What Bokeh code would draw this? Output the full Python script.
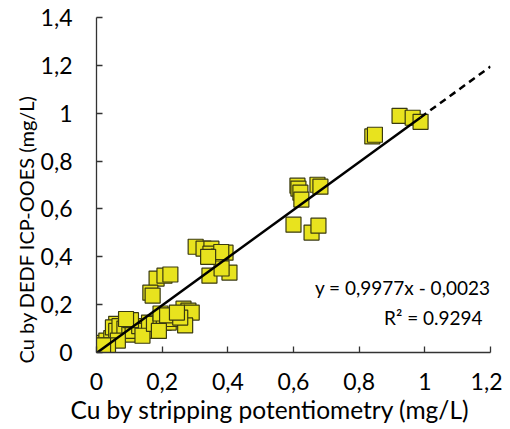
from bokeh.plotting import figure
from bokeh.models import Range1d, FixedTicker, CustomJSTickFormatter, Label, Title
from bokeh.embed import file_html
from bokeh.resources import INLINE

# Data
x_vals = [0.923, 0.963, 0.987, 0.840, 0.848,
          0.612, 0.615, 0.621, 0.624, 0.673, 0.682, 0.600, 0.655, 0.676,
          0.302, 0.326, 0.350, 0.347, 0.393, 0.372, 0.380, 0.344, 0.405, 0.381, 0.340,
          0.183, 0.207, 0.225, 0.164, 0.171,
          0.000, 0.005, 0.030, 0.045, 0.060, 0.050, 0.060, 0.070, 0.085, 0.100,
          0.110, 0.130, 0.150, 0.160, 0.140, 0.175, 0.195, 0.205, 0.220, 0.235,
          0.195, 0.215, 0.265, 0.280, 0.290, 0.270, 0.255, 0.245, 0.190, 0.065,
          0.035, 0.020, 0.105, 0.090]
y_vals = [0.989, 0.981, 0.964, 0.903, 0.910,
          0.697, 0.685, 0.668, 0.639, 0.701, 0.693, 0.534, 0.501, 0.530,
          0.442, 0.434, 0.434, 0.413, 0.417, 0.401, 0.420, 0.321, 0.334, 0.351, 0.400,
          0.309, 0.321, 0.326, 0.250, 0.238,
          0.030, 0.040, 0.050, 0.060, 0.120, 0.105, 0.090, 0.110, 0.100, 0.075,
          0.090, 0.110, 0.090, 0.125, 0.070, 0.120, 0.140, 0.125, 0.125, 0.140,
          0.163, 0.155, 0.183, 0.175, 0.167, 0.113, 0.146, 0.167, 0.090, 0.050,
          0.030, 0.030, 0.135, 0.140]

slope = 0.9977
intercept = -0.0023
forecast_to = 1.2
x_ticks = [0, 0.2, 0.4, 0.6, 0.8, 1.0, 1.2]
y_ticks = [0, 0.2, 0.4, 0.6, 0.8, 1.0, 1.2, 1.4]
x_title = "Cu by stripping potentiometry (mg/L)"
y_title = "Cu by DEDF ICP-OOES (mg/L)"
eq_text = "y = 0,9977x - 0,0023"
r2_text = "R\u00b2 = 0.9294"

FONT = "Lato"

p = figure(frame_width=394, frame_height=335, output_backend="svg", toolbar_location=None,
           x_range=Range1d(0, 1.2), y_range=Range1d(0, 1.4),
           min_border_left=96, min_border_right=12, min_border_top=17, min_border_bottom=69)

p.xgrid.visible = False
p.ygrid.visible = False
p.outline_line_color = None
p.background_fill_color = "white"

fmt = CustomJSTickFormatter(code="var s = (Math.round(tick*10)/10).toString(); return s.replace('.', ',');")
for ax, ticks in ((p.xaxis, x_ticks), (p.yaxis, y_ticks)):
    ax.ticker = FixedTicker(ticks=ticks)
    ax.formatter = fmt
    ax.major_tick_in = 6
    ax.major_tick_out = 0
    ax.minor_tick_line_color = None
    ax.axis_line_color = "#333333"
    ax.major_tick_line_color = "#333333"
    ax.axis_line_width = 1.3
    ax.major_tick_line_width = 1.3
    ax.major_label_text_font = FONT
    ax.major_label_text_font_size = "23px"
    ax.major_label_text_color = "black"

p.xaxis.major_label_standoff = 20
p.yaxis.major_label_standoff = 24

# Axis titles placed like the reference (centred on the chart area, not the frame)
p.add_layout(Title(text=x_title, align="left", offset=-26, standoff=0,
                   text_font=FONT, text_font_size="24.5px", text_font_style="normal",
                   text_color="black"), "below")
p.add_layout(Title(text=y_title, align="left", offset=-11, standoff=0,
                   text_font=FONT, text_font_size="20px", text_font_style="normal",
                   text_color="black"), "left")

p.scatter(x_vals, y_vals, marker="square", size=15,
          fill_color="#e8e31e", line_color="#3a3a10", line_width=1.2)

x_start = -intercept / slope
x_end = max(x_vals)
p.line([x_start, x_end], [slope * x_start + intercept, slope * x_end + intercept],
       line_color="black", line_width=2.5)
p.line([x_end, forecast_to], [slope * x_end + intercept, slope * forecast_to + intercept],
       line_color="black", line_width=2.5, line_dash="7 5")

p.add_layout(Label(x=1.200, y=0.272, text=eq_text, text_align="right", text_baseline="middle",
                   text_font=FONT, text_font_size="19px", text_color="black"))
p.add_layout(Label(x=1.176, y=0.147, text=r2_text, text_align="right", text_baseline="middle",
                   text_font=FONT, text_font_size="19px", text_color="black"))

open("out.html", "w").write(file_html(p, INLINE))
